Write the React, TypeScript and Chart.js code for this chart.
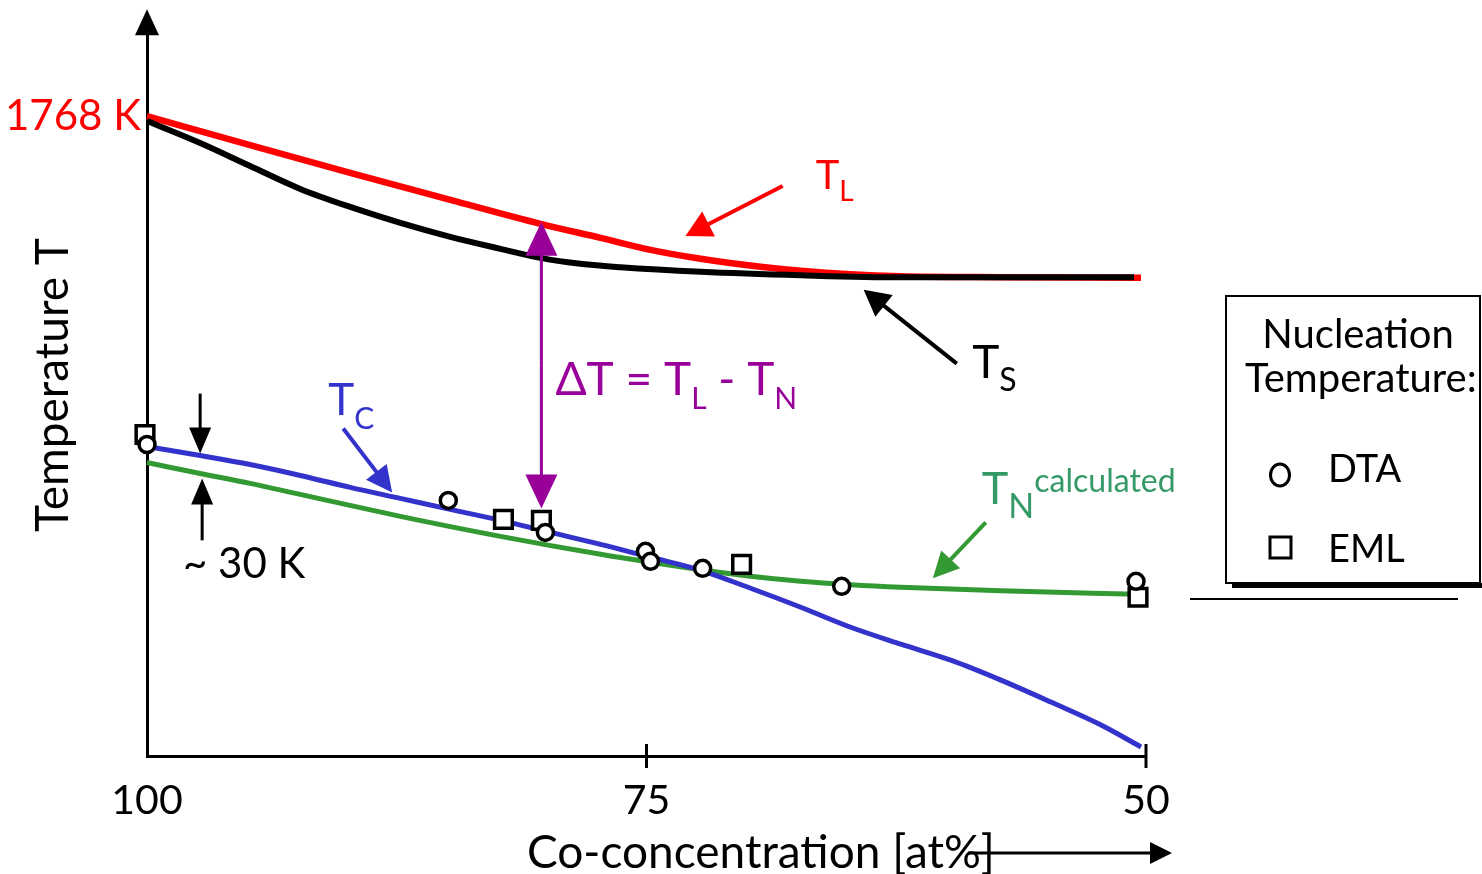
import React, { useEffect, useRef } from "react";
import { Chart, registerables } from "chart.js";

Chart.register(...registerables);

const FONT = "Lato, 'Open Sans', 'DejaVu Sans', sans-serif";

// Axis ticks
const xTicks = [100, 75, 50];
const yTickValues = [1768];
const yTickLabels = ["1768 K"];

// Liquidus T_L (red)
const liquidusX = [100, 94.84, 89.83, 84.82, 80.31, 77.3, 74.8, 72.29, 69.29, 67.28, 64.78, 62.27, 57.26, 50.25];
const liquidusT = [1768, 1734.7, 1702.5, 1671.4, 1643.8, 1627.6, 1613.8, 1603.5, 1594.2, 1589.6, 1585.6, 1583.3, 1582.2, 1581.6];

// Solidus T_S (black)
const solidusX = [100, 97.34, 94.84, 92.33, 89.83, 87.32, 84.82, 82.31, 80.31, 78.31, 76.3, 72.29, 67.28, 62.27, 50.6];
const solidusT = [1762.4, 1737.0, 1710.5, 1684.1, 1663.3, 1644.9, 1628.8, 1615.0, 1604.6, 1597.7, 1593.7, 1588.5, 1584.5, 1582.2, 1582.2];

// Curie temperature T_C (blue)
const curieX = [100, 97.34, 94.84, 92.33, 89.83, 87.32, 84.82, 82.31, 79.81, 77.3, 74.8, 72.29, 69.79, 67.28, 64.78, 62.27, 59.77, 57.26, 54.76, 52.25, 50.25];
const curieT = [1387.0, 1376.6, 1366.2, 1353.6, 1339.8, 1327.1, 1314.4, 1301.8, 1287.9, 1274.1, 1259.2, 1244.2, 1223.5, 1201.6, 1178.5, 1159.0, 1140.5, 1117.5, 1092.2, 1065.7, 1040.4];

// Calculated nucleation temperature T_N (green)
const nucX = [100, 97.34, 94.84, 92.33, 87.32, 82.31, 77.3, 74.8, 72.29, 69.79, 67.28, 64.78, 62.27, 57.26, 50.4];
const nucT = [1368.5, 1355.9, 1344.4, 1331.7, 1306.4, 1283.3, 1262.6, 1253.4, 1244.8, 1237.3, 1231.5, 1227.5, 1224.6, 1220.6, 1216.5];

// Measured nucleation temperatures
const dtaX = [100, 84.92, 80.06, 75.05, 74.8, 72.19, 65.23, 50.5];
const dtaT = [1389.3, 1324.8, 1287.9, 1266.1, 1254.5, 1246.5, 1225.7, 1231.5];
const emlX = [100.1, 82.16, 80.26, 70.24, 50.4];
const emlT = [1400.8, 1302.9, 1301.8, 1251.1, 1213.1];

const pts = (xs: number[], ys: number[]) => xs.map((x, i) => ({ x, y: ys[i] }));

function arrow(ctx: CanvasRenderingContext2D, x1: number, y1: number, x2: number, y2: number, color: string, lw: number, len: number, half: number) {
  const a = Math.atan2(y2 - y1, x2 - x1);
  const bx = x2 - Math.cos(a) * len;
  const by = y2 - Math.sin(a) * len;
  ctx.save();
  ctx.strokeStyle = color;
  ctx.fillStyle = color;
  ctx.lineWidth = lw;
  ctx.lineCap = "butt";
  ctx.beginPath();
  ctx.moveTo(x1, y1);
  ctx.lineTo(bx + Math.cos(a) * 2, by + Math.sin(a) * 2);
  ctx.stroke();
  ctx.beginPath();
  ctx.moveTo(x2, y2);
  ctx.lineTo(bx + Math.sin(a) * half, by - Math.cos(a) * half);
  ctx.lineTo(bx - Math.sin(a) * half, by + Math.cos(a) * half);
  ctx.closePath();
  ctx.fill();
  ctx.restore();
}

type Run = { t: string; size: number; dy?: number };
function runs(ctx: CanvasRenderingContext2D, x: number, y: number, items: Run[], color: string) {
  ctx.save();
  ctx.fillStyle = color;
  ctx.textBaseline = "alphabetic";
  ctx.textAlign = "left";
  let cx = x;
  for (const r of items) {
    ctx.font = `${r.size}px ${FONT}`;
    ctx.fillText(r.t, cx, y + (r.dy || 0));
    cx += ctx.measureText(r.t).width;
  }
  ctx.restore();
}

const annotations = {
  id: "annotations",
  afterDraw(chart: any) {
    const ctx: CanvasRenderingContext2D = chart.ctx;
    const xs = chart.scales.x;
    const ys = chart.scales.y;
    const X = (v: number) => xs.getPixelForValue(v);
    const Y = (v: number) => ys.getPixelForValue(v);
    const { left, top, bottom } = chart.chartArea;

    // y-axis arrowhead
    ctx.save();
    ctx.fillStyle = "#000";
    ctx.beginPath();
    ctx.moveTo(left, top - 22);
    ctx.lineTo(left - 12, top + 4);
    ctx.lineTo(left + 12, top + 4);
    ctx.closePath();
    ctx.fill();
    // x ticks crossing the axis
    ctx.strokeStyle = "#000";
    ctx.lineWidth = 3;
    for (const v of [75, 50]) {
      ctx.beginPath();
      ctx.moveTo(X(v), bottom - 12);
      ctx.lineTo(X(v), bottom + 12);
      ctx.stroke();
    }
    ctx.restore();

    // y-axis title
    ctx.save();
    ctx.translate(68, 385);
    ctx.rotate(-Math.PI / 2);
    ctx.font = `46px ${FONT}`;
    ctx.fillStyle = "#000";
    ctx.textAlign = "center";
    ctx.textBaseline = "alphabetic";
    ctx.fillText("Temperature T", 0, 0);
    ctx.restore();

    // x-axis title and arrow
    ctx.save();
    ctx.font = `46px ${FONT}`;
    ctx.fillStyle = "#000";
    ctx.textAlign = "left";
    ctx.textBaseline = "alphabetic";
    ctx.fillText("Co-concentration [at%]", 527, 868);
    ctx.restore();
    arrow(ctx, 968, 853, 1172, 853, "#000", 3, 22, 11);

    // T_L
    arrow(ctx, X(68.19), Y(1687.5), X(73.05), Y(1629.9), "#ff0000", 4, 26, 14);
    runs(ctx, X(66.53), Y(1684.1), [{ t: "T", size: 40 }, { t: "L", size: 28, dy: 12 }], "#ff0000");

    // T_S
    arrow(ctx, X(59.47), Y(1482.5), X(64.13), Y(1567.8), "#000", 4, 26, 14);
    runs(ctx, X(58.7), Y(1466.4), [{ t: "T", size: 46 }, { t: "S", size: 32, dy: 13 }], "#000");

    // Delta T double arrow
    const px = X(80.26);
    const yTop = Y(1646.1);
    const yBot = Y(1315.6);
    const mid = (yTop + yBot) / 2;
    arrow(ctx, px, mid, px, yTop, "#990099", 3, 34, 16);
    arrow(ctx, px, mid, px, yBot, "#990099", 3, 34, 16);
    runs(ctx, X(79.56), Y(1446.9), [
      { t: "\u0394T = T", size: 46 },
      { t: "L", size: 30, dy: 14 },
      { t: " - T", size: 46 },
      { t: "N", size: 30, dy: 14 },
    ], "#990099");

    // T_C
    arrow(ctx, X(90.18), Y(1407.7), X(87.73), Y(1334.0), "#3333cc", 4, 26, 13);
    runs(ctx, X(90.93), Y(1423.8), [{ t: "T", size: 44 }, { t: "C", size: 30, dy: 14 }], "#3333cc");

    // T_N calculated
    arrow(ctx, X(58.02), Y(1299.5), X(60.67), Y(1235.0), "#339933", 4, 26, 13);
    runs(ctx, X(58.22), Y(1320.2), [
      { t: "T", size: 45 },
      { t: "N", size: 34, dy: 14 },
      { t: "calculated", size: 32, dy: -12 },
    ], "#339966");

    // ~30 K
    arrow(ctx, X(97.34), Y(1448.0), X(97.34), Y(1378.9), "#000", 3, 26, 11);
    arrow(ctx, X(97.24), Y(1278.7), X(97.24), Y(1350.1), "#000", 3, 26, 11);
    runs(ctx, X(98.2), Y(1235.0), [{ t: "~ 30 K", size: 42 }], "#000");

    // Legend box
    ctx.save();
    ctx.fillStyle = "#000";
    ctx.fillRect(1232, 583, 250, 5);
    ctx.strokeStyle = "#000";
    ctx.lineWidth = 2;
    ctx.strokeRect(1226, 296, 254, 287);
    ctx.fillStyle = "#fff";
    ctx.fillRect(1227, 297, 252, 285);
    ctx.fillStyle = "#000";
    ctx.font = `40px ${FONT}`;
    ctx.textBaseline = "alphabetic";
    ctx.textAlign = "center";
    ctx.fillText("Nucleation", 1358, 348);
    ctx.textAlign = "left";
    ctx.fillText("Temperature:", 1245, 392);
    ctx.font = `38px ${FONT}`;
    ctx.fillText("DTA", 1328, 482);
    ctx.fillText("EML", 1328, 562);
    ctx.lineWidth = 3;
    ctx.beginPath();
    ctx.ellipse(1280, 475, 9.5, 11, 0, 0, Math.PI * 2);
    ctx.stroke();
    ctx.strokeRect(1270, 537, 21, 21);
    ctx.lineWidth = 2;
    ctx.beginPath();
    ctx.moveTo(1190, 599);
    ctx.lineTo(1458, 599);
    ctx.stroke();
    ctx.restore();
  },
};

export default function App() {
  const ref = useRef<HTMLCanvasElement | null>(null);
  useEffect(() => {
    if (!ref.current) return;
    const lineDs = (label: string, xs: number[], ys: number[], color: string, width: number, order: number) => ({
      label,
      data: pts(xs, ys),
      borderColor: color,
      backgroundColor: color,
      borderWidth: width,
      pointRadius: 0,
      cubicInterpolationMode: "monotone" as const,
      fill: false,
      clip: false as any,
      order,
    });
    const chart = new Chart(ref.current, {
      type: "line",
      data: {
        datasets: [
          {
            label: "DTA",
            data: pts(dtaX, dtaT),
            showLine: false,
            pointStyle: "circle",
            pointRadius: 8,
            pointBorderWidth: 3.5,
            pointBackgroundColor: "#fff",
            pointBorderColor: "#000",
            clip: false as any,
            order: 0,
          },
          {
            label: "EML",
            data: pts(emlX, emlT),
            showLine: false,
            pointStyle: "rect",
            pointRadius: 12.5,
            pointBorderWidth: 3.5,
            pointBackgroundColor: "#fff",
            pointBorderColor: "#000",
            clip: false as any,
            order: 0,
          },
          lineDs("T_S", solidusX, solidusT, "#000000", 6, 1),
          lineDs("T_L", liquidusX, liquidusT, "#ff0000", 6.5, 2),
          lineDs("T_C", curieX, curieT, "#3333cc", 5, 3),
          lineDs("T_N calculated", nucX, nucT, "#339933", 5, 4),
        ],
      } as any,
      options: {
        responsive: false,
        animation: false,
        layout: { padding: { left: 0, top: 30, right: 336, bottom: 0 } },
        plugins: { legend: { display: false }, tooltip: { enabled: false } },
        scales: {
          x: {
            type: "linear",
            reverse: true,
            min: 50,
            max: 100,
            afterBuildTicks: (s: any) => {
              s.ticks = xTicks.map((v) => ({ value: v }));
            },
            afterFit: (s: any) => {
              s.height = 118;
            },
            grid: { display: false, drawTicks: false },
            border: { display: true, color: "#000", width: 3 },
            ticks: {
              color: "#000",
              font: { family: FONT, size: 41 },
              padding: 20,
              maxRotation: 0,
              autoSkip: false,
              callback: (v: any) => String(v),
            },
          },
          y: {
            type: "linear",
            min: 1030,
            max: 1866,
            afterBuildTicks: (s: any) => {
              s.ticks = yTickValues.map((v) => ({ value: v }));
            },
            afterFit: (s: any) => {
              s.width = 147;
            },
            grid: { display: false, drawTicks: false },
            border: { display: true, color: "#000", width: 3 },
            ticks: {
              color: "#ff0000",
              font: { family: FONT, size: 42 },
              padding: 6,
              autoSkip: false,
              callback: (v: any) => {
                const i = yTickValues.indexOf(Number(v));
                return i >= 0 ? yTickLabels[i] : "";
              },
            },
          },
        },
      } as any,
      plugins: [annotations],
    });
    return () => chart.destroy();
  }, []);
  return (
    <div style={{ position: "absolute", left: 0, top: 0, width: 1482, height: 874, background: "#fff" }}>
      <canvas ref={ref} width={1482} height={874} style={{ display: "block" }} />
    </div>
  );
}
